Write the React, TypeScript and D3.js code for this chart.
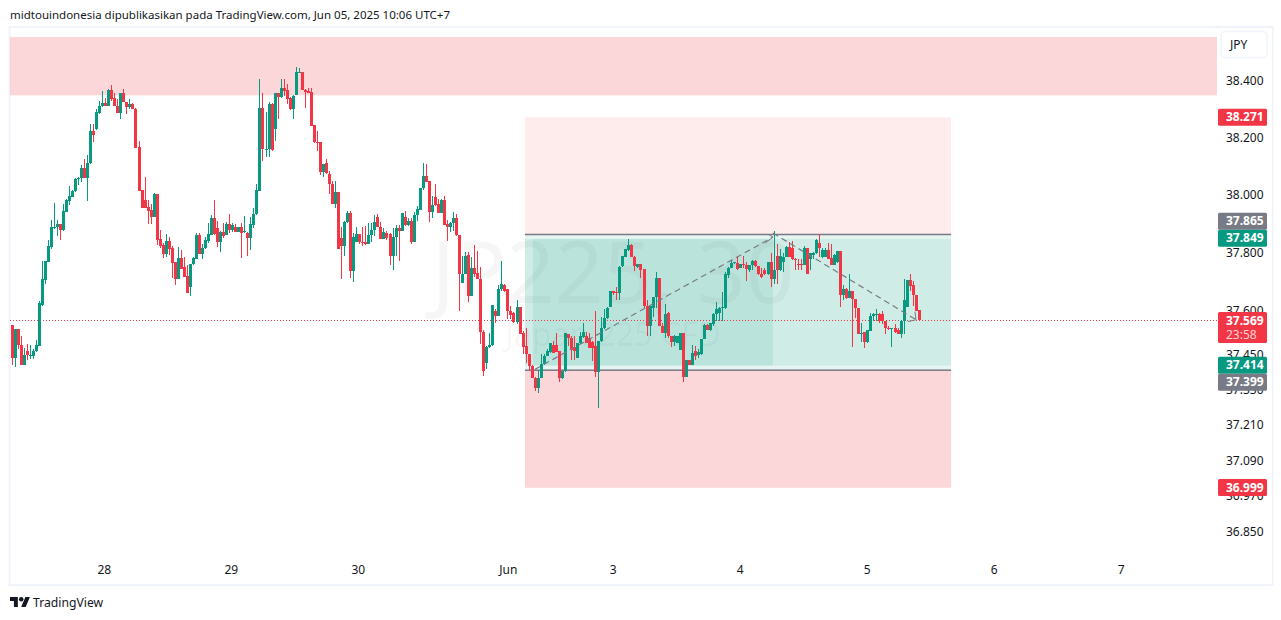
import React from "react";
import * as d3 from "d3";

type Bar = [number, number, number, number]; // open, high, low, close

const lateMay27: Bar[] = [
[37.553,37.553,37.415,37.440],[37.440,37.539,37.409,37.539],[37.539,37.539,37.469,37.484],[37.484,37.515,37.415,37.415],
[37.415,37.475,37.415,37.449],[37.465,37.486,37.434,37.449],[37.449,37.484,37.436,37.451],[37.446,37.469,37.436,37.465],
[37.463,37.500,37.461,37.483],[37.480,37.634,37.480,37.627],[37.622,37.772,37.619,37.709],[37.706,37.772,37.692,37.772],
[37.770,37.845,37.770,37.824],[37.822,37.914,37.815,37.890],[37.885,37.972,37.883,37.891],[37.891,37.914,37.859,37.900],
[37.900,37.900,37.845,37.880],[37.880,37.970,37.875,37.945],[37.943,37.986,37.942,37.984],[37.980,38.032,37.966,37.997],
[37.995,38.018,37.993,38.016],[38.013,38.060,38.010,38.058],[38.058,38.065,38.036,38.059],[38.059,38.105,38.047,38.095],
[38.095,38.126,38.061,38.061],[38.061,38.140,37.981,38.111],[38.111,38.247,38.108,38.223],[38.223,38.247,38.186,38.210],
[38.230,38.299,38.228,38.290],[38.287,38.328,38.284,38.310],[38.310,38.362,38.307,38.320],
];
const may28: Bar[] = [
[38.320,38.339,38.310,38.311],[38.311,38.369,38.310,38.365],[38.365,38.383,38.328,38.336],[38.338,38.357,38.311,38.312],
[38.312,38.335,38.287,38.287],[38.287,38.355,38.266,38.355],[38.355,38.371,38.325,38.325],[38.326,38.326,38.282,38.307],
[38.307,38.336,38.299,38.318],[38.318,38.321,38.299,38.299],[38.302,38.304,38.165,38.165],[38.166,38.188,38.016,38.016],
[38.018,38.018,37.955,37.955],[37.984,38.062,37.955,37.957],[37.958,37.984,37.901,37.947],[37.949,37.969,37.901,37.926],
[37.926,38.007,37.926,38.004],[38.004,38.004,37.827,37.845],[37.848,37.880,37.816,37.824],[37.827,37.836,37.783,37.796],
[37.796,37.866,37.787,37.841],[37.841,37.856,37.793,37.815],[37.816,37.824,37.715,37.766],[37.768,37.768,37.689,37.709],
[37.709,37.822,37.709,37.782],[37.782,37.810,37.744,37.746],[37.752,37.787,37.718,37.718],[37.720,37.758,37.664,37.664],
[37.683,37.761,37.652,37.761],[37.761,37.787,37.758,37.782],[37.780,37.870,37.778,37.862],[37.862,37.868,37.796,37.796],
[37.796,37.831,37.781,37.819],[37.817,37.856,37.815,37.845],[37.841,37.905,37.835,37.866],[37.862,37.932,37.862,37.920],
[37.920,37.984,37.862,37.866],[37.885,37.911,37.822,37.839],[37.839,37.876,37.804,37.873],[37.873,37.903,37.851,37.860],
[37.862,37.906,37.862,37.900],[37.900,37.935,37.868,37.880],
];
const may29: Bar[] = [
[37.880,37.903,37.874,37.897],[37.889,37.900,37.874,37.874],[37.873,37.891,37.873,37.891],[37.891,37.903,37.783,37.870],
[37.873,37.928,37.868,37.875],[37.870,37.873,37.790,37.853],[37.853,37.923,37.810,37.900],[37.897,37.955,37.885,37.934],
[37.934,38.039,37.932,38.018],[38.016,38.406,38.016,38.304],[38.304,38.356,38.120,38.159],[38.157,38.290,38.132,38.159],
[38.159,38.325,38.132,38.317],[38.317,38.321,38.155,38.157],[38.230,38.356,38.190,38.356],[38.356,38.356,38.265,38.342],
[38.342,38.406,38.339,38.373],[38.373,38.406,38.344,38.363],[38.365,38.388,38.316,38.336],[38.339,38.342,38.296,38.299],
[38.299,38.350,38.265,38.344],[38.350,38.449,38.348,38.431],[38.429,38.444,38.427,38.431],[38.431,38.431,38.365,38.365],
[38.368,38.371,38.304,38.359],[38.362,38.373,38.357,38.357],[38.359,38.373,38.241,38.241],[38.244,38.244,38.180,38.184],
[38.186,38.223,38.155,38.184],[38.186,38.186,38.070,38.082],[38.082,38.109,38.065,38.109],[38.111,38.126,38.074,38.076],
[38.074,38.084,38.004,38.038],[38.038,38.050,37.970,37.970],[37.970,38.050,37.957,38.010],[38.010,38.010,37.814,37.814],
[37.853,37.889,37.709,37.825],[37.825,37.911,37.790,37.908],[37.908,37.945,37.903,37.937],[37.937,37.945,37.714,37.738],
[37.738,37.868,37.700,37.856],[37.839,37.891,37.839,37.866],
];
const may30: Bar[] = [
[37.866,37.866,37.833,37.837],[37.837,37.891,37.825,37.834],[37.837,37.893,37.827,37.833],[37.833,37.903,37.831,37.862],
[37.862,37.903,37.839,37.880],[37.880,37.932,37.860,37.906],[37.926,37.935,37.891,37.891],[37.891,37.906,37.848,37.848],
[37.848,37.885,37.848,37.874],[37.870,37.876,37.845,37.851],[37.866,37.868,37.758,37.790],[37.790,37.888,37.741,37.854],
[37.854,37.897,37.790,37.885],[37.885,37.897,37.772,37.876],[37.876,37.937,37.876,37.937],[37.923,37.947,37.894,37.897],
[37.897,37.920,37.894,37.911],[37.911,37.920,37.830,37.838],[37.838,37.943,37.838,37.932],
[37.932,37.964,37.911,37.952],[37.949,38.024,37.949,38.024],[38.024,38.111,38.018,38.067],[38.067,38.109,38.045,38.047],
[38.049,38.049,37.908,37.942],[37.942,37.999,37.922,37.966],[37.994,38.039,37.964,37.966],[37.970,37.986,37.937,37.940],[37.940,37.986,37.937,37.984],
[37.984,37.997,37.897,37.897],[37.899,37.914,37.843,37.891],[37.891,37.908,37.874,37.905],[37.903,37.941,37.877,37.920],
[37.920,37.935,37.860,37.862],[37.862,37.862,37.602,37.729],[37.698,37.789,37.698,37.729],[37.729,37.802,37.729,37.790],
[37.792,37.804,37.631,37.652],[37.652,37.787,37.652,37.750],[37.750,37.827,37.718,37.729],[37.733,37.808,37.712,37.712],
[37.712,37.752,37.486,37.529],[37.529,37.535,37.380,37.394],[37.423,37.480,37.403,37.477],[37.477,37.527,37.475,37.484],
[37.484,37.622,37.480,37.622],[37.602,37.608,37.561,37.585],[37.585,37.689,37.585,37.675],[37.675,37.772,37.671,37.692],
[37.689,37.694,37.665,37.671],
];
const jun2: Bar[] = [
[37.675,37.677,37.573,37.600],[37.602,37.619,37.573,37.588],[37.593,37.596,37.561,37.564],[37.564,37.639,37.556,37.613],
[37.613,37.616,37.521,37.523],[37.527,37.532,37.452,37.478],[37.480,37.544,37.423,37.452],[37.452,37.452,37.399,37.411],
[37.411,37.417,37.371,37.371],[37.373,37.376,37.328,37.339],[37.339,37.400,37.319,37.373],[37.373,37.452,37.371,37.420],
[37.419,37.452,37.417,37.448],[37.446,37.469,37.446,37.463],[37.460,37.492,37.457,37.492],[37.484,37.498,37.457,37.457],
[37.484,37.527,37.460,37.460],[37.463,37.463,37.359,37.371],[37.371,37.394,37.368,37.394],[37.394,37.527,37.391,37.524],
[37.521,37.523,37.480,37.509],[37.509,37.514,37.434,37.467],[37.477,37.515,37.432,37.465],[37.439,37.492,37.439,37.492],
[37.491,37.529,37.489,37.514],[37.511,37.561,37.509,37.529],[37.515,37.529,37.490,37.492],[37.509,37.527,37.475,37.475],
[37.495,37.498,37.428,37.475],[37.481,37.602,37.376,37.391],[37.391,37.498,37.270,37.498],[37.498,37.579,37.495,37.544],
[37.542,37.608,37.538,37.575],[37.575,37.616,37.573,37.611],[37.616,37.668,37.613,37.668],
];
const jun3: Bar[] = [
[37.668,37.668,37.657,37.662],[37.666,37.683,37.637,37.662],[37.662,37.755,37.637,37.752],[37.756,37.790,37.753,37.789],
[37.787,37.814,37.785,37.814],[37.810,37.848,37.808,37.827],[37.827,37.830,37.786,37.786],[37.785,37.789,37.738,37.756],
[37.752,37.764,37.750,37.762],[37.762,37.764,37.715,37.741],[37.744,37.744,37.608,37.619],[37.619,37.637,37.515,37.550],
[37.550,37.619,37.515,37.619],[37.611,37.650,37.579,37.650],[37.650,37.735,37.611,37.714],[37.714,37.714,37.550,37.550],
[37.550,37.558,37.524,37.527],[37.527,37.625,37.509,37.590],[37.593,37.596,37.507,37.515],[37.515,37.515,37.477,37.495],
[37.495,37.519,37.481,37.515],[37.492,37.515,37.492,37.515],[37.467,37.524,37.467,37.524],[37.527,37.527,37.357,37.374],
[37.374,37.432,37.374,37.432],[37.432,37.434,37.417,37.417],[37.417,37.484,37.417,37.457],[37.463,37.481,37.434,37.446],
[37.449,37.469,37.440,37.460],[37.452,37.506,37.449,37.504],[37.504,37.556,37.504,37.552],[37.553,37.556,37.535,37.536],
[37.536,37.561,37.532,37.559],[37.556,37.593,37.550,37.590],[37.590,37.631,37.567,37.608],[37.593,37.613,37.567,37.611],
[37.611,37.666,37.567,37.613],[37.611,37.735,37.609,37.727],[37.723,37.752,37.715,37.750],[37.749,37.775,37.747,37.766],
[37.766,37.770,37.764,37.768],[37.766,37.789,37.743,37.746],
];
const jun4: Bar[] = [
[37.749,37.764,37.747,37.764],[37.764,37.789,37.747,37.760],[37.760,37.770,37.703,37.744],[37.743,37.760,37.735,37.758],
[37.758,37.775,37.741,37.773],[37.773,37.775,37.752,37.756],[37.757,37.757,37.723,37.729],[37.729,37.747,37.715,37.718],
[37.743,37.747,37.723,37.727],[37.727,37.768,37.723,37.768],[37.768,37.799,37.683,37.709],[37.709,37.876,37.694,37.741],
[37.789,37.831,37.694,37.741],[37.741,37.815,37.738,37.789],[37.770,37.799,37.735,37.787],[37.787,37.824,37.785,37.822],
[37.822,37.839,37.785,37.785],[37.817,37.841,37.775,37.778],[37.779,37.784,37.743,37.778],[37.764,37.781,37.741,37.762],
[37.764,37.778,37.741,37.763],[37.758,37.824,37.758,37.816],[37.816,37.816,37.727,37.727],[37.778,37.801,37.741,37.799],
[37.793,37.804,37.778,37.799],[37.799,37.847,37.796,37.845],[37.836,37.866,37.785,37.816],[37.785,37.816,37.783,37.812],
[37.787,37.816,37.785,37.812],[37.812,37.836,37.778,37.781],[37.784,37.833,37.758,37.758],[37.758,37.796,37.758,37.795],
[37.768,37.808,37.767,37.807],[37.807,37.807,37.616,37.657],[37.657,37.689,37.637,37.675],[37.675,37.681,37.642,37.646],
[37.646,37.729,37.646,37.671],[37.671,37.671,37.477,37.642],[37.642,37.642,37.577,37.610],[37.610,37.610,37.523,37.523],
[37.523,37.561,37.495,37.527],[37.529,37.529,37.475,37.495],
];
const jun5: Bar[] = [
[37.495,37.536,37.492,37.536],[37.532,37.593,37.532,37.582],[37.582,37.594,37.567,37.590],[37.587,37.608,37.567,37.590],
[37.590,37.594,37.561,37.567],[37.590,37.600,37.556,37.567],[37.567,37.567,37.523,37.542],[37.542,37.550,37.536,37.538],
[37.538,37.544,37.477,37.541],[37.542,37.556,37.527,37.529],[37.536,37.544,37.521,37.523],[37.523,37.570,37.509,37.567],
[37.567,37.712,37.521,37.637],[37.616,37.708,37.613,37.706],[37.706,37.729,37.671,37.686],[37.689,37.703,37.619,37.654],
[37.657,37.657,37.600,37.600],[37.604,37.604,37.565,37.569],
];

const priceTicks = ["38.400","38.200","38.000","37.800","37.600","37.450","37.330","37.210","37.090","36.970","36.850"];
const dayLabels = ["28","29","30","Jun","3","4","5","6","7"];
const dayBars = [30.7,72.7,114.7,164.3,199,241,283,325,367];
const zoneTop = [38.553,38.348];
const boxBars = [169.8,172.4,251.8,310.7];
const stopTop = 38.271, entryTop = 37.865, innerTop = 37.849, innerBottom = 37.414, entryBottom = 37.399, stopBottom = 36.999, lastPrice = 37.569;
const pathBars = [173.1,251.8,251.8,299.1];
const pathPrices = [37.401,37.855,37.869,37.571];
const tags: [string,string,string][] = [
  ["38.271","#F23645","38.271"],["37.865","#787B86","37.865"],["37.849","#089981","37.849"],
  ["37.414","#089981","37.414"],["37.399","#787B86","37.399"],["36.999","#F23645","36.999"],
];
const tagOffset: Record<string,number> = {"37.865":221.2,"37.849":238.2,"37.414":365.2,"37.399":382.2,"38.271":117.2,"36.999":487.5};

const bars: Bar[] = [...lateMay27,...may28,...may29,...may30,...jun2,...jun3,...jun4,...jun5];
const FONT = '"Noto Sans", sans-serif';
const GREEN = "#089981", RED = "#F23645";

export default function App() {
  const x = d3.scaleLinear().domain([0,1]).range([11.5,14.524]);
  const y = d3.scaleLog().domain([38.4,36.85]).range([80.5,532]);
  const R = (a:number,b:number)=>({x:x(a),width:x(b)-x(a)});
  const clipR = 1217;
  const upSeg = [pathPrices[0],pathPrices[1]];
  const downSeg = [pathPrices[2],pathPrices[3]];
  const upLine = d3.line<number>().x((_,i)=>x(pathBars[i])).y(d=>y(d))(upSeg)!;
  const downLine = d3.line<number>().x((_,i)=>x(pathBars[i+2])).y(d=>y(d))(downSeg)!;
  const lastY = Math.floor(y(lastPrice))+0.5;
  return (
    <svg width={1281} height={620} style={{position:"absolute",left:0,top:0,display:"block",background:"#fff",fontFamily:FONT}}>
      <text x={10} y={18.5} fontSize={11.5} fill="#131722">midtouindonesia dipublikasikan pada TradingView.com, Jun 05, 2025 10:06 UTC+7</text>
      <rect x={9.5} y={27} width={1263} height={558} fill="#fff" stroke="#F0F3FA" strokeWidth={2}/>
      <text x={613} y={303} fontSize={85} fill="#131722" fillOpacity={0.04} textAnchor="middle">JP225, 30</text>
      <text x={613} y={346} fontSize={32} fill="#131722" fillOpacity={0.04} textAnchor="middle">Japan 225 CFD</text>
      <rect x={10} y={y(zoneTop[0])} width={clipR-10} height={y(zoneTop[1])-y(zoneTop[0])} fill={RED} fillOpacity={0.2}/>
      <rect {...R(boxBars[0],boxBars[3])} y={y(stopTop)} height={y(entryTop)-y(stopTop)} fill={RED} fillOpacity={0.1}/>
      <rect {...R(boxBars[0],boxBars[3])} y={y(entryBottom)} height={y(stopBottom)-y(entryBottom)} fill={RED} fillOpacity={0.2}/>
      <rect {...R(boxBars[0],boxBars[3])} y={y(entryTop)} height={y(entryBottom)-y(entryTop)} fill={GREEN} fillOpacity={0.1}/>
      <rect {...R(boxBars[0],boxBars[3])} y={y(innerTop)} height={y(innerBottom)-y(innerTop)} fill={GREEN} fillOpacity={0.1}/>
      <rect {...R(boxBars[1],boxBars[2])} y={y(innerTop)} height={y(innerBottom)-y(innerTop)} fill={GREEN} fillOpacity={0.1}/>
      <rect {...R(boxBars[0],boxBars[3])} y={y(entryTop)-0.5} height={1.5} fill="#787B86"/>
      <rect {...R(boxBars[0],boxBars[3])} y={y(entryBottom)-0.5} height={1.5} fill="#787B86"/>
      <line x1={10} x2={clipR} y1={lastY} y2={lastY} stroke={RED} strokeWidth={1} strokeDasharray="1 2" shapeRendering="crispEdges"/>
      <g shapeRendering="crispEdges">
        {bars.map(([o,h,l,c],i)=>{
          const cx = Math.round(x(i));
          const col = c>=o?GREEN:RED;
          const top = y(Math.max(o,c)), bot = y(Math.min(o,c));
          return <g key={i} fill={col}>
            <rect x={cx} y={y(h)} width={1} height={Math.max(1,y(l)-y(h))}/>
            <rect x={cx-1} y={top} width={3} height={Math.max(1,bot-top)}/>
          </g>;
        })}
      </g>
      <path d={upLine} fill="none" stroke="#787B86" strokeWidth={1.2} strokeDasharray="6 4"/>
      <path d={downLine} fill="none" stroke="#787B86" strokeWidth={1.2} strokeDasharray="6 4"/>
      {[[251.8,pathPrices[1],-8,6,-5,-3],[299.1,pathPrices[3],-8,2,-1,-8]].map((a,i)=>(
        <g key={i} stroke="#787B86" strokeWidth={1} fill="none">
          <line x1={x(a[0])} y1={y(a[1])} x2={x(a[0])+a[2]} y2={y(a[1])+a[3]}/>
          <line x1={x(a[0])} y1={y(a[1])} x2={x(a[0])+a[4]} y2={y(a[1])+a[5]}/>
        </g>
      ))}
      <rect x={1217} y={28} width={55} height={556} fill="#fff"/>
      <rect x={1221} y={31.5} width={46} height={26} rx={4} fill="#fff" stroke="#F0F3FA" strokeWidth={1.5}/>
      <text x={1230} y={48.5} fontSize={12} fill="#131722">JPY</text>
      {priceTicks.map(t=>(
        <text key={t} x={1226} y={y(+t)+4} fontSize={12} fill="#131722">{t}</text>
      ))}
      {tags.map(([k,col,txt])=>(
        <g key={k}>
          <rect x={1218} y={tagOffset[k]-8.5} width={49} height={17} rx={1.5} fill={col}/>
          <text x={1226} y={tagOffset[k]+4} fontSize={12} fontWeight={700} fill="#fff">{txt}</text>
        </g>
      ))}
      <rect x={1218} y={312} width={49} height={31} rx={1.5} fill={RED}/>
      <text x={1226} y={324.5} fontSize={12} fontWeight={700} fill="#fff">37.569</text>
      <text x={1226} y={339} fontSize={12} fontWeight={400} fill="#FFD0D4">23:58</text>
      {dayLabels.map((d,i)=>(
        <text key={d} x={x(dayBars[i])} y={574} fontSize={12} fill="#131722" textAnchor="middle">{d}</text>
      ))}
      <g transform="translate(10,594.8) scale(0.56)" fill="#131722">
        <path d="M14 22H7V11H0V4h14v18zM28 22h-8l7.5-18h8L28 22z"/>
        <circle cx={20} cy={8} r={4}/>
      </g>
      <text x={33} y={607} fontSize={12.2} fill="#131722">TradingView</text>
    </svg>
  );
}
